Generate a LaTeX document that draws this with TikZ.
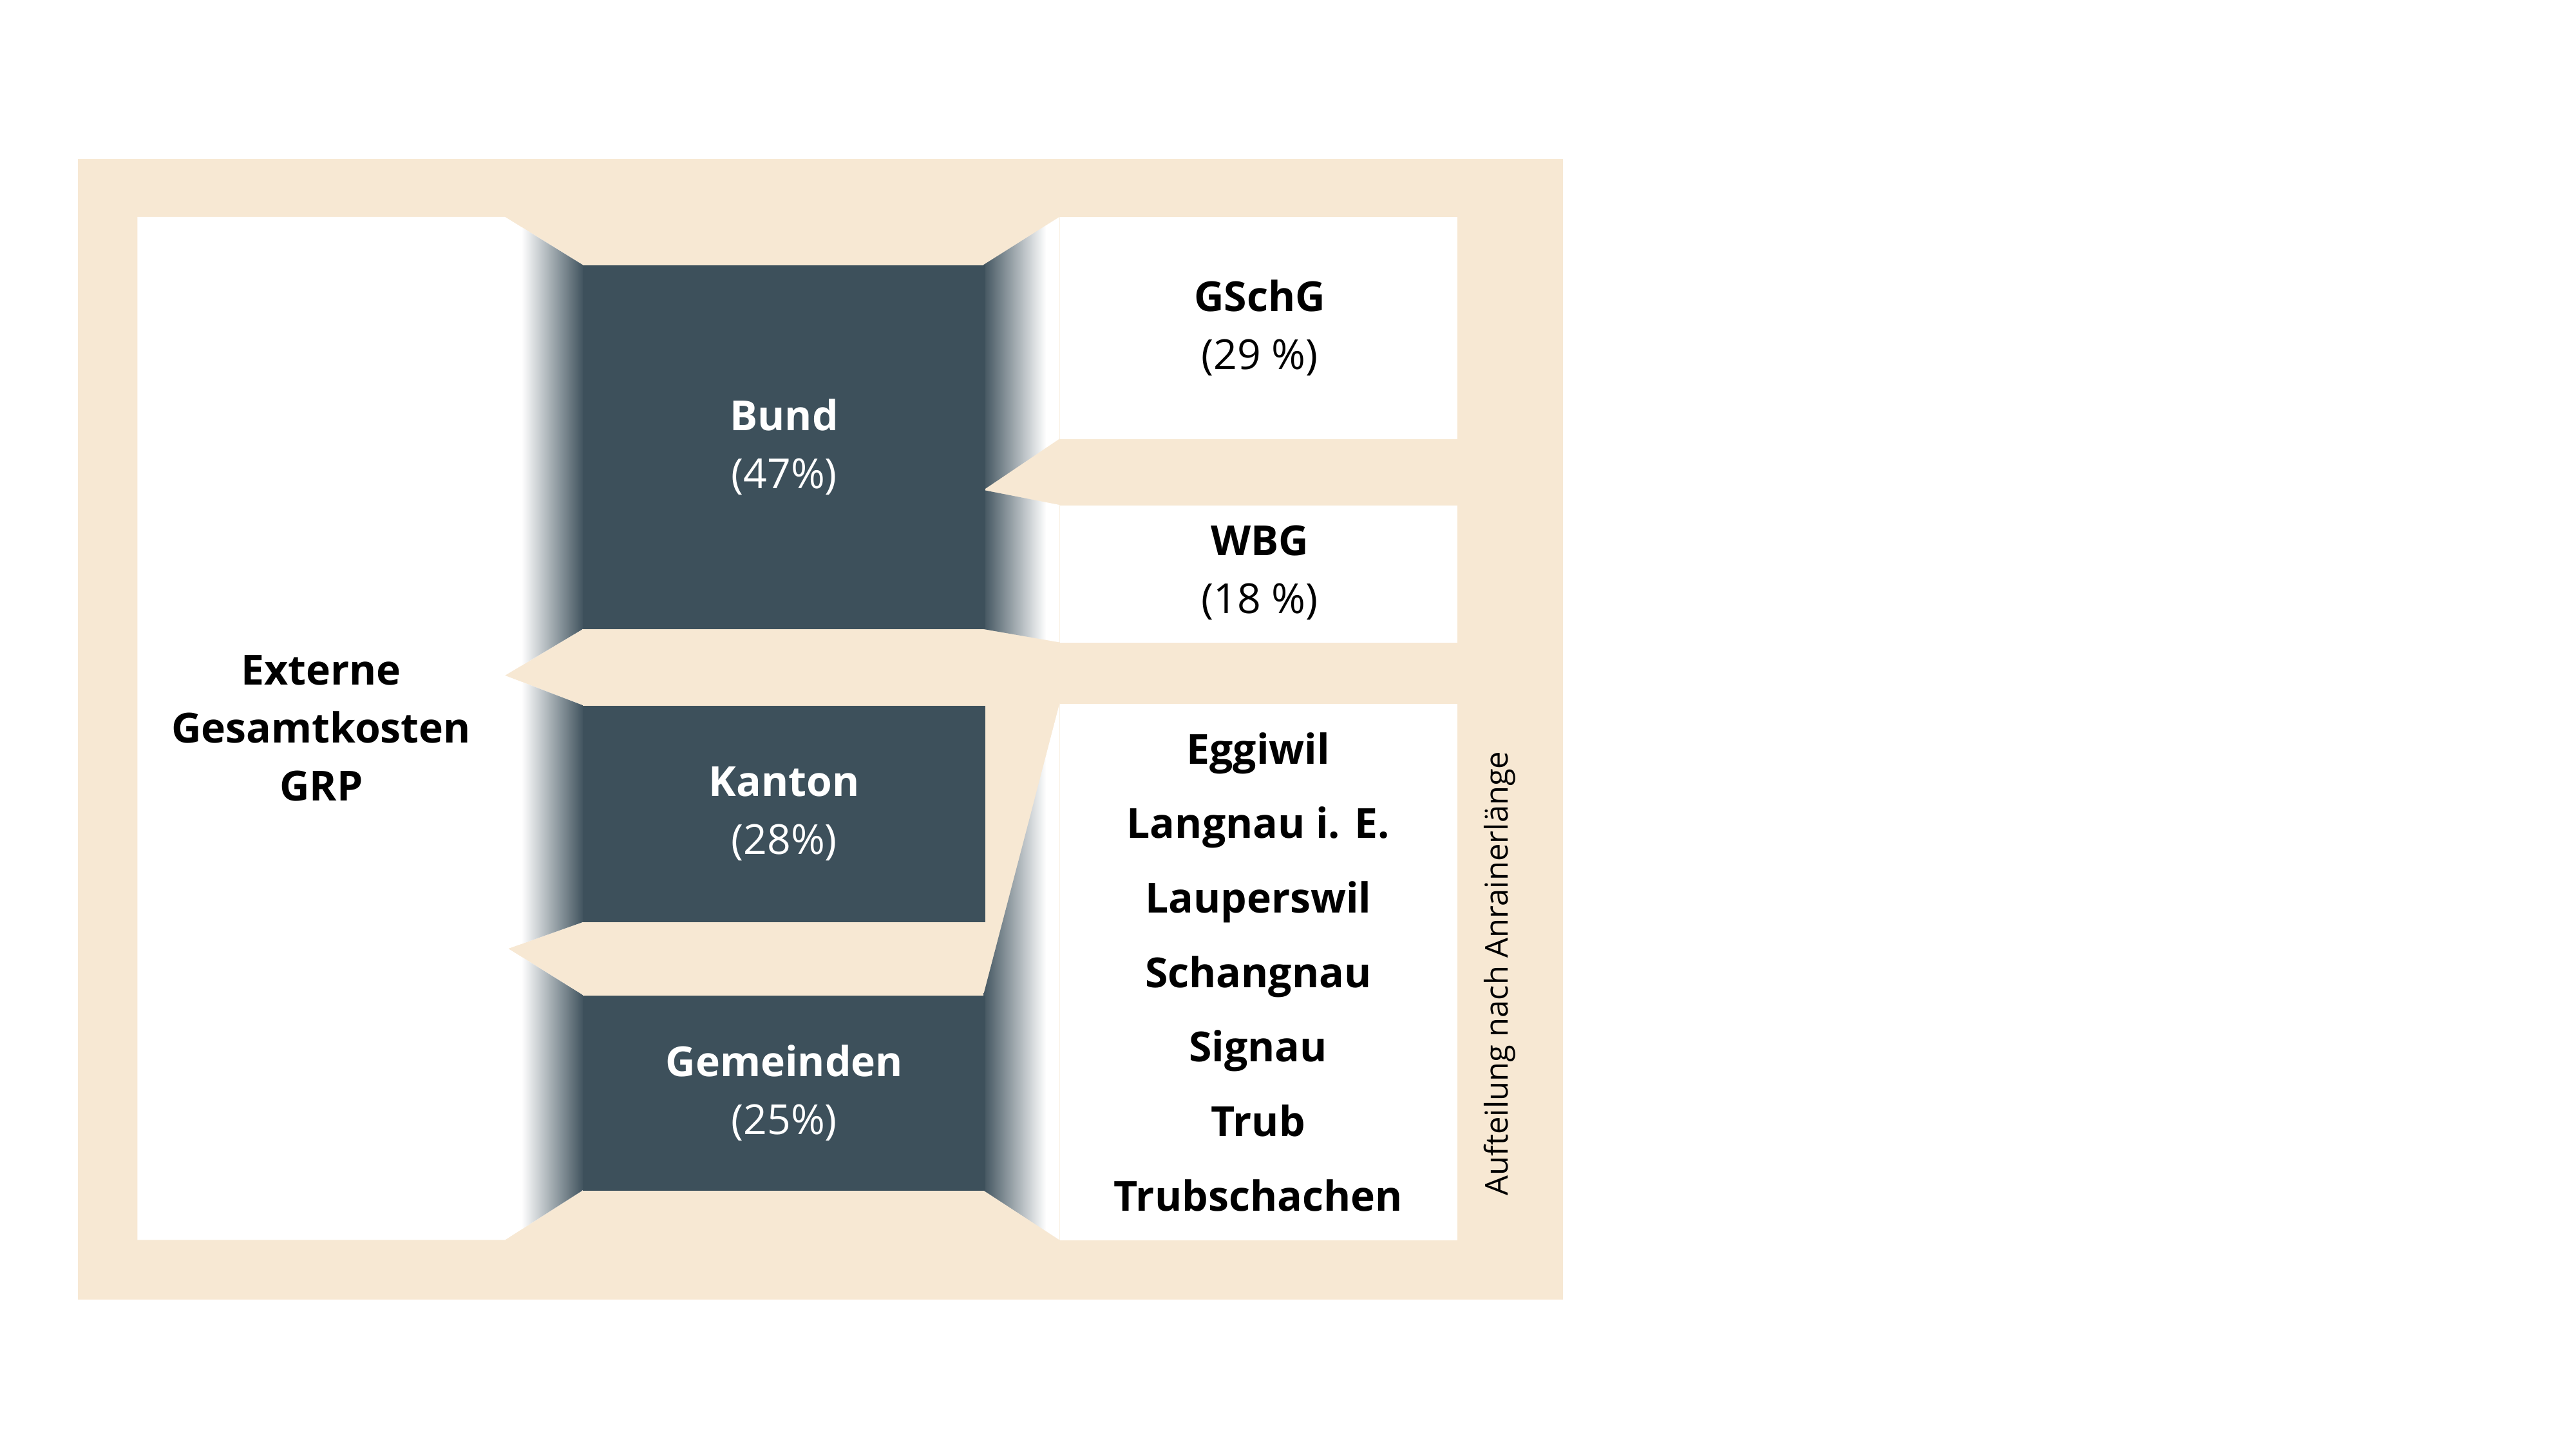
\documentclass[tikz,border=0pt]{standalone}
\usepackage{fontspec}
\setmainfont{Open Sans}
\definecolor{dk}{HTML}{3D505B}
\definecolor{bg}{HTML}{F7E8D3}
\begin{document}
\begin{tikzpicture}[x=1pt,y=-1pt,
  lbl/.style={font=\fontsize{25}{35}\selectfont,align=center,inner sep=0pt},
  wl/.style={lbl,text=white}]
\useasboundingbox (0,0) rectangle (1556,875);
\fill[white] (0,0) rectangle (1556,875);
\fill[bg] (47,96) rectangle (944,785);
% left white + gradient
\fill[white] (83,131) -- (305,131) -- (352,160) -- (352,380) -- (305,408) -- (352,426) -- (352,557) -- (307,573) -- (352,601) -- (352,719) -- (305,749) -- (83,749) -- cycle;
\begin{scope}
\clip (305,131) -- (352,160) -- (352,380) -- (305,408) -- (352,426) -- (352,557) -- (307,573) -- (352,601) -- (352,719) -- (305,749) -- cycle;
\shade[left color=white,right color=dk] (315,120) rectangle (353,760);
\end{scope}
% right gradients
\begin{scope}
\clip (594,160) -- (640,131) -- (640,265) -- (594,296) -- (640,305) -- (640,388) -- (594,380) -- cycle
      (640,425) -- (594,601) -- (594,719) -- (640,749) -- cycle;
\shade[left color=dk,right color=white] (593,120) rectangle (632,760);
\fill[white] (632,120) rectangle (641,760);
\end{scope}
% boxes
\node[fill=dk,minimum width=243,minimum height=220,anchor=north west,inner sep=0] (bund) at (352,160) {};
\node[fill=dk,minimum width=243,minimum height=131,anchor=north west,inner sep=0] (kanton) at (352,426) {};
\node[fill=dk,minimum width=243,minimum height=118,anchor=north west,inner sep=0] (gem) at (352,601) {};
\node[fill=white,minimum width=240,minimum height=134,anchor=north west,inner sep=0] (gschg) at (640,131) {};
\node[fill=white,minimum width=240,minimum height=83,anchor=north west,inner sep=0] (wbg) at (640,305) {};
\node[fill=white,minimum width=240,minimum height=324,anchor=north west,inner sep=0] (gemlist) at (640,425) {};
% texts
\node[lbl] (ext) at (194,440) {\textbf{Externe}\\\textbf{Gesamtkosten}\\\textbf{GRP}};
\node[wl] at (bund.center) {\textbf{Bund}\\(47\%)};
\node[wl] at (kanton.center) {\textbf{Kanton}\\(28\%)};
\node[wl] at (gem.center) {\textbf{Gemeinden}\\(25\%)};
\node[lbl] at (761,198) {\textbf{GSchG}\\(29 \%)};
\node[lbl] at (761,346) {\textbf{WBG}\\(18 \%)};
\node[lbl,font=\fontsize{25}{45}\selectfont] at (760,587) {\textbf{Eggiwil}\\\textbf{Langnau i. E.}\\\textbf{Lauperswil}\\\textbf{Schangnau}\\\textbf{Signau}\\\textbf{Trub}\\\textbf{Trubschachen}};
\node[inner sep=0,rotate=90,font=\fontsize{19}{22}\selectfont] (auft) at (906,588) {Aufteilung nach Anrainerlänge};
\end{tikzpicture}
\end{document}
